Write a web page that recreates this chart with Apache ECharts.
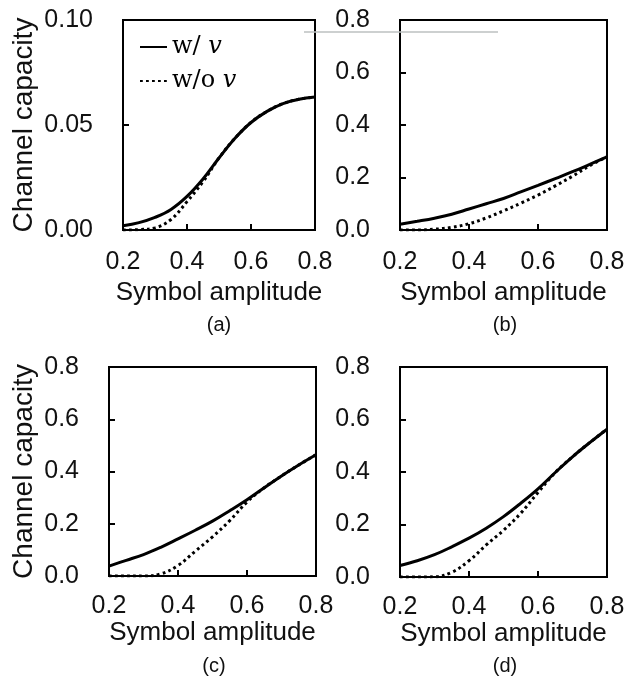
<!DOCTYPE html>
<html><head><meta charset="utf-8">
<script src="https://cdn.jsdelivr.net/npm/echarts@6/dist/echarts.min.js"></script>
<style>html,body{margin:0;padding:0;background:#fff}#c{width:628px;height:679px}</style>
</head><body><div id="c"></div>
<script>
// ---- data ----
const xValues = [0.20,0.25,0.30,0.35,0.40,0.45,0.50,0.55,0.60,0.65,0.70,0.75,0.80];
const xTicks = ['0.2','0.4','0.6','0.8'];
const yTicksA = ['0.00','0.05','0.10'];
const yTicksOther = ['0.0','0.2','0.4','0.6','0.8'];
const panelLabels = ['(a)','(b)','(c)','(d)'];
const seriesNames = ['w/ v','w/o v'];
const xAxisName = 'Symbol amplitude';
const yAxisName = 'Channel capacity';

const aWith    = [0.002,0.0035,0.006,0.0098,0.016,0.0243,0.0343,0.0437,0.0512,0.0565,0.0602,0.0623,0.0633];
const aWithout = [0.000,0.0002,0.001,0.005,0.0135,0.023,0.0343,0.0437,0.0512,0.0565,0.0602,0.0623,0.0633];
const bWith    = [0.022,0.033,0.045,0.060,0.080,0.100,0.120,0.145,0.170,0.196,0.222,0.250,0.279];
const bWithout = [0.000,0.000,0.003,0.010,0.024,0.046,0.073,0.102,0.133,0.168,0.205,0.245,0.279];
const cWith    = [0.038,0.060,0.082,0.110,0.142,0.175,0.210,0.250,0.292,0.338,0.383,0.425,0.464];
const cWithout = [0.000,0.000,0.000,0.008,0.040,0.095,0.150,0.212,0.283,0.338,0.383,0.425,0.464];
const dWith    = [0.044,0.062,0.085,0.115,0.148,0.186,0.230,0.281,0.336,0.398,0.458,0.512,0.563];
const dWithout = [0.000,0.000,0.001,0.018,0.062,0.122,0.178,0.243,0.322,0.398,0.458,0.512,0.563];

// ---- layout ----
const grids = [
  {left:123, top:20, width:192, height:210},
  {left:400, top:20, width:207, height:210},
  {left:109, top:367, width:207, height:209},
  {left:400, top:367, width:207, height:210}
];
const panelData = [[aWith,aWithout],[bWith,bWithout],[cWith,cWithout],[dWith,dWithout]];
const yTickSets = [yTicksA, yTicksOther, yTicksOther, yTicksOther];
const labelPos = [[219,325],[505,325],[214,666],[505,666]];
const txt = '#111';
const sans = 'Liberation Sans, Arial, sans-serif';

function tickAxis(ticks){
  const dec = (ticks[0].split('.')[1]||'').length;
  const min = parseFloat(ticks[0]), max = parseFloat(ticks[ticks.length-1]);
  const interval = parseFloat(ticks[1]) - parseFloat(ticks[0]);
  return {min, max, interval, fmt: v => v.toFixed(dec)};
}

const option = {
  animation:false,
  backgroundColor:'#fff',
  grid: grids.map(g => Object.assign({show:true, borderColor:'#000', borderWidth:2, containLabel:false, outerBoundsMode:'none'}, g)),
  xAxis: grids.map((g,i) => {
    const t = tickAxis(xTicks);
    const row2 = i >= 2;
    return {
      type:'value', gridIndex:i, min:t.min, max:t.max, interval:t.interval,
      axisLine:{show:true, lineStyle:{color:'#000', width:2}},
      axisTick:{show:true, inside:true, length:6, lineStyle:{color:'#000', width:2}},
      splitLine:{show:false},
      axisLabel:{formatter:t.fmt, fontSize:25, fontFamily:sans, color:txt, margin: row2?18:20},
      name:xAxisName, nameLocation:'middle', nameGap: row2?44:50,
      nameTextStyle:{fontSize:26, fontFamily:sans, color:txt}
    };
  }),
  yAxis: grids.map((g,i) => {
    const t = tickAxis(yTickSets[i]);
    const ax = {
      type:'value', gridIndex:i, min:t.min, max:t.max, interval:t.interval,
      axisLine:{show:true, lineStyle:{color:'#000', width:2}},
      axisTick:{show:true, inside:true, length:6, lineStyle:{color:'#000', width:2}},
      splitLine:{show:false},
      axisLabel:{formatter:t.fmt, fontSize:25, fontFamily:sans, color:txt, margin:30}
    };
    if (i === 0 || i === 2) {
      Object.assign(ax, {name:yAxisName, nameLocation:'middle', nameGap: i===0?85:71,
        nameTextStyle:{fontSize:28, fontFamily:sans, color:txt}});
    }
    return ax;
  }),
  legend: {
    left:134, top:30, orient:'vertical', itemWidth:27, itemHeight:12, itemGap:10,
    selectedMode:false, data:seriesNames,
    itemStyle:{opacity:0},
    formatter: n => n === seriesNames[0] ? '{t|w/ }{v|v}' : '{t|w/o }{v|v}',
    textStyle:{rich:{
      t:{fontFamily:'DejaVu Serif', fontSize:24, color:'#000', lineHeight:24},
      v:{fontFamily:'DejaVu Serif', fontStyle:'italic', fontSize:24, color:'#000', lineHeight:24}
    }}
  },
  series: [],
  graphic: [
    {type:'line', z:100, shape:{x1:304, y1:32, x2:498, y2:32}, style:{stroke:'#bcc0c0', lineWidth:1.5}}
  ].concat(panelLabels.map((l,i) => ({
    type:'text', x:labelPos[i][0], y:labelPos[i][1],
    style:{text:l, font:'20px Liberation Sans, Arial, sans-serif', fill:txt, textAlign:'center', textVerticalAlign:'middle'}
  })))
};

panelData.forEach((pair,i) => {
  option.series.push({
    type:'line', name:seriesNames[1], xAxisIndex:i, yAxisIndex:i, z:2,
    data: xValues.map((x,k) => [x, pair[1][k]]),
    symbol:'none', smooth:0.4, silent:true,
    lineStyle:{color:'#000', width:3, type:[2.8,3.2], cap:'butt'}, itemStyle:{color:'#000'}
  });
  option.series.push({
    type:'line', name:seriesNames[0], xAxisIndex:i, yAxisIndex:i, z:3,
    data: xValues.map((x,k) => [x, pair[0][k]]),
    symbol:'none', smooth:0.4, silent:true,
    lineStyle:{color:'#000', width:3, type:'solid'}, itemStyle:{color:'#000'}
  });
});

const chart = echarts.init(document.getElementById('c'), null, {renderer:'canvas'});
chart.setOption(option);
</script>
</body></html>
